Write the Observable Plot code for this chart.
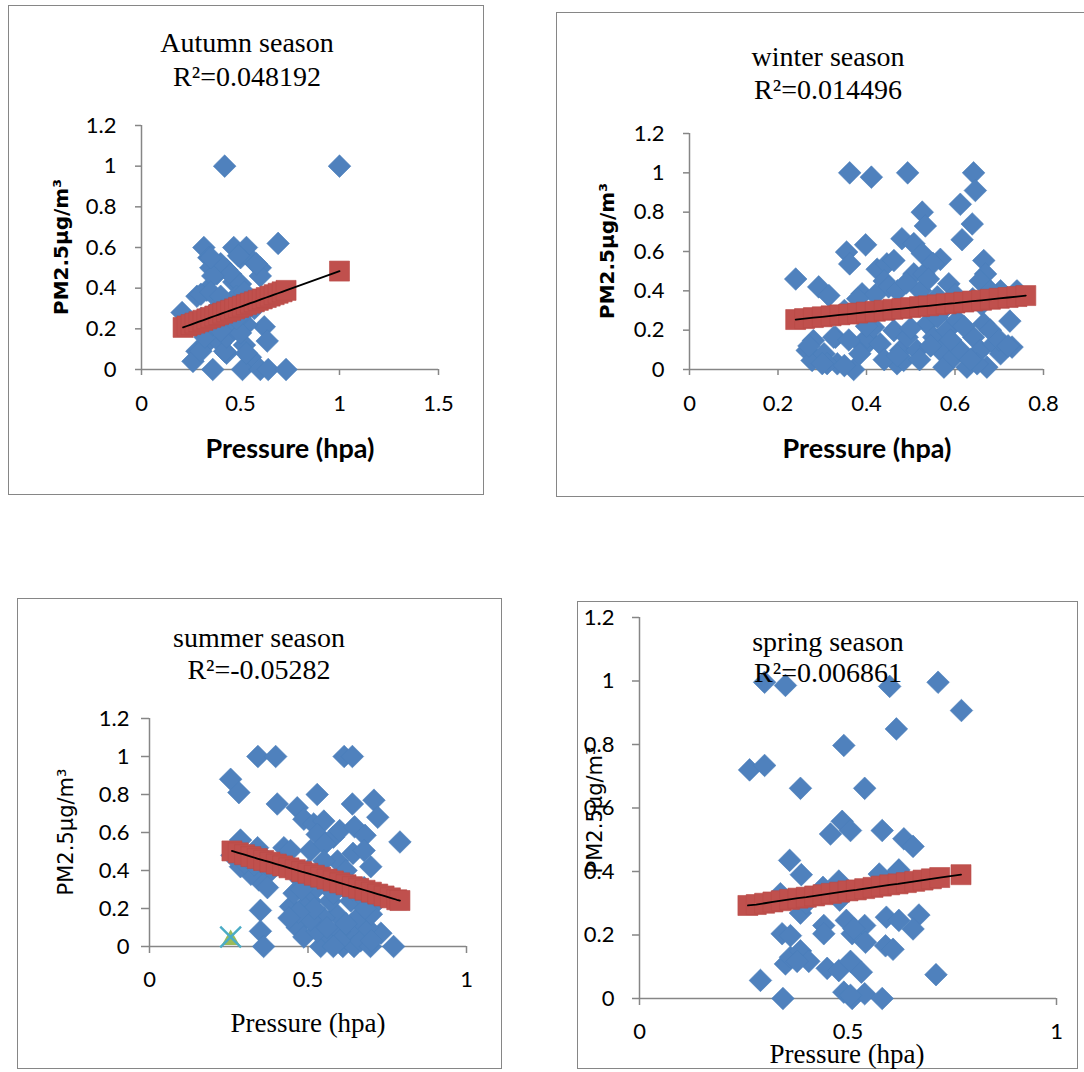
<!DOCTYPE html>
<html>
<head>
<meta charset="utf-8">
<script src="https://cdn.jsdelivr.net/npm/d3@7"></script>
<script src="https://cdn.jsdelivr.net/npm/@observablehq/plot@0.6"></script>
<style>
  html, body { margin: 0; padding: 0; background: #fff; }
  #page { position: relative; width: 1084px; height: 1072px; overflow: hidden; background: #fff; }
  .box { position: absolute; border: 1.5px solid #868686; box-sizing: border-box; }
  .t { position: absolute; white-space: nowrap; line-height: 1; color: #000; }
  .plot { position: absolute; }
</style>
</head>
<body>
<div id="page"></div>
<script>
// ---------- DATA ----------
const yTicks = [0, 0.2, 0.4, 0.6, 0.8, 1, 1.2];
const autumnXTicks = [0, 0.5, 1, 1.5];
const winterXTicks = [0, 0.2, 0.4, 0.6, 0.8];
const summerXTicks = [0, 0.5, 1];
const springXTicks = [0, 0.5, 1];

const titles = ["Autumn season", "winter season", "summer season", "spring season"];
const r2Labels = ["R²=0.048192", "R²=0.014496", "R²=-0.05282", "R²=0.006861"];

// observed PM2.5 vs pressure (normalised), [pressure, pm]
const autumnPoints = [
  [0.42,1.00],[1.00,1.00],[0.69,0.62],[0.315,0.60],[0.466,0.60],[0.53,0.60],[0.50,0.55],[0.34,0.55],
  [0.567,0.53],[0.60,0.50],[0.35,0.50],[0.38,0.47],[0.43,0.49],[0.466,0.43],[0.60,0.46],[0.28,0.36],
  [0.33,0.39],[0.205,0.28],[0.62,0.21],[0.635,0.14],[0.28,0.09],[0.26,0.04],[0.33,0.13],[0.43,0.08],
  [0.36,0.00],[0.52,0.12],[0.55,0.06],[0.51,0.00],[0.60,0.00],[0.64,0.00],[0.73,0.00],[0.40,0.13],
  [0.53,0.22],[0.50,0.26],[0.40,0.52],[0.45,0.47],[0.36,0.46],[0.30,0.37],[0.35,0.38],[0.50,0.42],
  [0.30,0.09],[0.42,0.09],[0.53,0.08],[0.43,0.16],[0.32,0.16],[0.58,0.52],[0.49,0.56],[0.35,0.55],
  [0.38,0.30],[0.45,0.33],[0.48,0.36],[0.55,0.34],[0.42,0.24],[0.47,0.20],[0.50,0.18],[0.36,0.22],
  [0.44,0.28],[0.57,0.30],[0.40,0.36],[0.30,0.25],[0.52,0.38],[0.48,0.25],[0.40,0.19]
];
const winterPoints = [
  [0.362,1.0],[0.411,0.978],[0.493,1.0],[0.642,1.0],[0.646,0.91],[0.612,0.84],[0.526,0.80],[0.533,0.73],
  [0.639,0.74],[0.616,0.66],[0.398,0.634],[0.48,0.665],[0.355,0.597],[0.362,0.537],[0.507,0.64],[0.526,0.59],
  [0.567,0.56],[0.24,0.46],[0.292,0.42],[0.315,0.376],[0.39,0.385],[0.424,0.51],[0.446,0.537],[0.462,0.554],
  [0.44,0.45],[0.507,0.486],[0.53,0.486],[0.522,0.40],[0.586,0.436],[0.665,0.554],[0.669,0.486],[0.657,0.45],
  [0.724,0.246],[0.729,0.114],[0.703,0.40],[0.55,0.54],[0.45,0.42],[0.47,0.40],[0.49,0.44],[0.54,0.46],
  [0.56,0.37],[0.60,0.38],[0.64,0.36],[0.68,0.40],[0.74,0.40],[0.42,0.38],[0.38,0.36],[0.35,0.30],
  [0.46,0.30],[0.58,0.32],[0.66,0.33],
  [0.266,0.097],[0.277,0.046],[0.304,0.08],[0.33,0.164],[0.334,0.029],[0.371,0.0],[0.311,0.03],[0.394,0.114],
  [0.402,0.164],[0.416,0.215],[0.431,0.13],[0.462,0.198],[0.469,0.029],[0.484,0.046],[0.477,0.097],[0.492,0.164],
  [0.514,0.097],[0.537,0.232],[0.552,0.164],[0.567,0.097],[0.575,0.012],[0.582,0.198],[0.597,0.063],[0.612,0.097],
  [0.627,0.012],[0.642,0.164],[0.657,0.097],[0.665,0.232],[0.672,0.012],[0.688,0.13],[0.703,0.08],[0.65,0.029],
  [0.605,0.25],[0.56,0.266],[0.28,0.147],[0.30,0.03],[0.326,0.164],[0.35,0.02],[0.27,0.12],[0.385,0.08],
  [0.44,0.05],[0.50,0.21],[0.52,0.05],[0.545,0.12],[0.59,0.15],[0.62,0.22],[0.635,0.05],[0.68,0.20],
  [0.70,0.15],[0.72,0.12],[0.47,0.07],[0.40,0.22],[0.36,0.15]
];
const summerPoints = [
  [0.342,1.0],[0.398,1.0],[0.614,1.0],[0.64,1.0],[0.256,0.88],[0.282,0.81],[0.403,0.75],[0.529,0.80],
  [0.64,0.75],[0.708,0.77],[0.72,0.68],[0.79,0.55],[0.466,0.73],[0.487,0.67],[0.518,0.645],[0.55,0.66],
  [0.529,0.59],[0.58,0.575],[0.60,0.61],[0.647,0.63],[0.68,0.585],[0.642,0.49],[0.677,0.505],[0.698,0.42],
  [0.508,0.505],[0.553,0.54],[0.593,0.45],[0.287,0.56],[0.341,0.52],[0.424,0.52],[0.445,0.505],[0.372,0.38],
  [0.345,0.35],[0.32,0.38],[0.287,0.42],[0.372,0.31],[0.35,0.19],[0.35,0.08],[0.36,0.0],[0.445,0.21],
  [0.466,0.10],[0.487,0.05],[0.508,0.24],[0.54,0.0],[0.56,0.07],[0.59,0.17],[0.61,0.0],[0.634,0.08],
  [0.645,0.0],[0.666,0.03],[0.697,0.0],[0.73,0.07],[0.77,0.0],[0.687,0.10],[0.656,0.15],[0.72,0.24],
  [0.477,0.35],[0.529,0.31],[0.57,0.24],[0.614,0.31],[0.635,0.24],[0.487,0.21],[0.55,0.15],[0.60,0.08],
  [0.529,0.08],[0.58,0.28],[0.508,0.14],[0.456,0.28],[0.677,0.31],[0.70,0.17],
  [0.48,0.30],[0.50,0.40],[0.55,0.45],[0.57,0.35],[0.62,0.40],[0.66,0.28],[0.68,0.20],[0.52,0.20],
  [0.56,0.10],[0.62,0.12],[0.64,0.30],[0.60,0.03],[0.58,0.0],[0.70,0.03],[0.47,0.18],[0.44,0.15],
  [0.40,0.43],[0.36,0.47],[0.30,0.44],[0.33,0.43],[0.26,0.48]
];
const springPoints = [
  [0.30,0.996],[0.35,0.986],[0.60,0.983],[0.716,0.996],[0.772,0.907],[0.616,0.849],[0.49,0.797],[0.264,0.72],
  [0.30,0.734],[0.386,0.662],[0.54,0.662],[0.486,0.558],[0.506,0.529],[0.458,0.518],[0.582,0.529],[0.634,0.503],
  [0.656,0.479],[0.36,0.435],[0.388,0.39],[0.575,0.392],[0.622,0.405],[0.478,0.37],[0.338,0.33],[0.386,0.269],
  [0.342,0.204],[0.362,0.198],[0.442,0.23],[0.442,0.204],[0.496,0.246],[0.51,0.204],[0.54,0.23],[0.514,0.22],
  [0.542,0.177],[0.592,0.256],[0.622,0.246],[0.67,0.263],[0.656,0.219],[0.59,0.166],[0.608,0.155],[0.35,0.109],
  [0.362,0.13],[0.386,0.15],[0.406,0.117],[0.378,0.117],[0.45,0.095],[0.478,0.088],[0.506,0.117],[0.532,0.083],
  [0.29,0.057],[0.711,0.075],[0.344,0.0],[0.49,0.02],[0.51,0.0],[0.54,0.015],[0.582,0.0],[0.506,0.01],
  [0.40,0.30],[0.48,0.31],[0.62,0.40],[0.44,0.35]
];

// predicted values (red squares) along each fitted line, [pressure, pm]
const autumnFit = [
  [0.21,0.207],[0.23,0.214],[0.25,0.221],[0.27,0.228],[0.29,0.235],[0.31,0.242],[0.33,0.249],[0.35,0.256],
  [0.37,0.263],[0.39,0.270],[0.41,0.277],[0.43,0.284],[0.45,0.291],[0.47,0.298],[0.49,0.305],[0.51,0.312],
  [0.53,0.319],[0.55,0.326],[0.57,0.333],[0.59,0.340],[0.61,0.347],[0.63,0.354],[0.65,0.361],[0.67,0.368],
  [0.69,0.375],[0.71,0.382],[0.73,0.389],[1.00,0.484]
];
const winterFit = [
  [0.24,0.254],[0.26,0.259],[0.28,0.264],[0.30,0.268],[0.32,0.273],[0.34,0.278],[0.36,0.282],[0.38,0.287],
  [0.40,0.292],[0.42,0.296],[0.44,0.301],[0.46,0.306],[0.48,0.310],[0.50,0.315],[0.52,0.320],[0.54,0.324],
  [0.56,0.329],[0.58,0.334],[0.60,0.338],[0.62,0.343],[0.64,0.348],[0.66,0.352],[0.68,0.357],[0.70,0.362],
  [0.72,0.366],[0.74,0.371],[0.76,0.376]
];
const summerFit = [
  [0.26,0.503],[0.28,0.493],[0.30,0.483],[0.32,0.473],[0.34,0.463],[0.36,0.453],[0.38,0.444],[0.40,0.434],
  [0.42,0.424],[0.44,0.414],[0.46,0.404],[0.48,0.394],[0.50,0.385],[0.52,0.375],[0.54,0.365],[0.56,0.355],
  [0.58,0.345],[0.60,0.335],[0.62,0.325],[0.64,0.315],[0.66,0.306],[0.68,0.296],[0.70,0.286],[0.72,0.276],
  [0.74,0.266],[0.76,0.256],[0.78,0.246],[0.79,0.242]
];
const springFit = [
  [0.26,0.293],[0.28,0.296],[0.30,0.300],[0.32,0.304],[0.34,0.308],[0.36,0.312],[0.38,0.316],[0.40,0.319],
  [0.42,0.323],[0.44,0.327],[0.46,0.331],[0.48,0.335],[0.50,0.339],[0.52,0.342],[0.54,0.346],[0.56,0.350],
  [0.58,0.354],[0.60,0.358],[0.62,0.361],[0.64,0.365],[0.66,0.369],[0.68,0.373],[0.70,0.377],[0.72,0.381],
  [0.771,0.390]
];
// extra summer series markers
const summerTriangle = [[0.256, 0.035]];
const summerCross = [[0.256, 0.05]];

// ---------- DRAWING ----------
const page = document.getElementById("page");
const BLUE = "#4F81BD", RED = "#C0504D", AXIS = "#868686";

function addText(str, cx, cy, css, rotate) {
  const d = document.createElement("div");
  d.className = "t";
  d.textContent = str;
  Object.assign(d.style, css);
  d.style.left = cx + "px";
  d.style.top = cy + "px";
  d.style.transform = "translate(-50%,-50%)" + (rotate ? " rotate(-90deg)" : "");
  page.appendChild(d);
}

function panel(p) {
  const box = document.createElement("div");
  box.className = "box";
  Object.assign(box.style, {left: p.left + "px", top: p.top + "px", width: p.width + "px", height: p.height + "px"});
  page.appendChild(box);

  const marks = [
    Plot.ruleY([0], {stroke: AXIS, strokeWidth: 1.5}),
    Plot.ruleX([0], {stroke: AXIS, strokeWidth: 1.5}),
    Plot.axisX(p.xTicks, {tickSize: p.tickX, tickPadding: p.padX, stroke: AXIS, fill: "black", label: null, tickFormat: d => String(d), strokeWidth: 1.5}),
    Plot.axisY(yTicks, {tickSize: p.tickY, tickPadding: p.padY, stroke: AXIS, fill: "black", label: null, tickFormat: d => String(d), strokeWidth: 1.5}),
    Plot.dot(p.points, {x: d => d[0], y: d => d[1], symbol: "diamond2", r: 10.2, fill: BLUE, stroke: "#4A7EBB", strokeWidth: 0.6}),
    ...(p.extra || []),
    Plot.dot(p.fit, {x: d => d[0], y: d => d[1], symbol: "square", r: 11.3, fill: RED, stroke: "#B84A47", strokeWidth: 0.6}),
    Plot.line(p.fit, {x: d => d[0], y: d => d[1], stroke: "black", strokeWidth: 1.8})
  ];

  const chart = Plot.plot({
    width: p.width,
    height: p.height,
    marginLeft: p.x0 - p.left,
    marginRight: p.left + p.width - p.x1,
    marginTop: p.y1 - p.top,
    marginBottom: p.top + p.height - p.y0,
    x: {domain: [p.xTicks[0], p.xTicks[p.xTicks.length - 1]]},
    y: {domain: [0, 1.2]},
    style: {fontFamily: "Lato, 'Open Sans', sans-serif", fontSize: "22px", background: "transparent", overflow: "visible", color: "black"},
    marks
  });
  chart.classList.add("plot");
  chart.style.left = p.left + "px";
  chart.style.top = p.top + "px";
  page.appendChild(chart);
}

const serifTitle = {fontFamily: "'Liberation Serif', 'Times New Roman', serif", fontSize: "28px"};
const boldSans = {fontFamily: "Lato, sans-serif", fontWeight: "bold", fontSize: "27px"};
const serifLabel = {fontFamily: "'Liberation Serif', 'Times New Roman', serif", fontSize: "27px"};
const yBold = {fontFamily: "'DejaVu Sans', sans-serif", fontWeight: "bold", fontSize: "20px"};
const yReg = {fontFamily: "'DejaVu Sans', sans-serif", fontSize: "21px"};

// Autumn
panel({left: 8, top: 5, width: 476, height: 490, x0: 141, x1: 438, y0: 369, y1: 125,
  xTicks: autumnXTicks, tickX: 6, tickY: 6, padX: 20, padY: 19, points: autumnPoints, fit: autumnFit});
// Winter
panel({left: 556, top: 12, width: 545, height: 485, x0: 689, x1: 1043, y0: 369, y1: 133,
  xTicks: winterXTicks, tickX: 6, tickY: 6, padX: 20, padY: 19, points: winterPoints, fit: winterFit});
// Summer
panel({left: 17, top: 598, width: 485, height: 471, x0: 149, x1: 466, y0: 946, y1: 718,
  xTicks: summerXTicks, tickX: 7, tickY: 8, padX: 18, padY: 12, points: summerPoints, fit: summerFit,
  extra: [
    Plot.dot(summerTriangle, {x: d => d[0], y: d => d[1], symbol: "triangle2", r: 8.5, fill: "#9BBB59"}),
    Plot.dot(summerCross, {x: d => d[0], y: d => d[1], symbol: "times", r: 9.5, stroke: "#4BACC6", strokeWidth: 2.4})
  ]});
// Spring
panel({left: 577, top: 601, width: 501, height: 468, x0: 639, x1: 1056, y0: 998, y1: 617,
  xTicks: springXTicks, tickX: 7, tickY: 7, padX: 18, padY: 18, points: springPoints, fit: springFit});

// Titles
addText(titles[0], 247, 43, serifTitle);
addText(r2Labels[0], 247, 77, serifTitle);
addText(titles[1], 828, 57, serifTitle);
addText(r2Labels[1], 828, 90, serifTitle);
addText(titles[2], 259, 638, serifTitle);
addText(r2Labels[2], 259, 670, serifTitle);
addText(titles[3], 828, 642, serifTitle);
addText(r2Labels[3], 828, 673, serifTitle);

// Axis labels
addText("Pressure (hpa)", 290, 447, boldSans);
addText("PM2.5µg/m³", 61, 247, yBold, true);
addText("Pressure (hpa)", 867, 447, boldSans);
addText("PM2.5µg/m³", 607, 251, yBold, true);
addText("Pressure (hpa)", 308, 1023, serifLabel);
addText("PM2.5µg/m³", 66, 832, yReg, true);
addText("Pressure (hpa)", 847, 1054, serifLabel);
addText("PM2.5µg/m³", 595, 810, yReg, true);
</script>
</body>
</html>
